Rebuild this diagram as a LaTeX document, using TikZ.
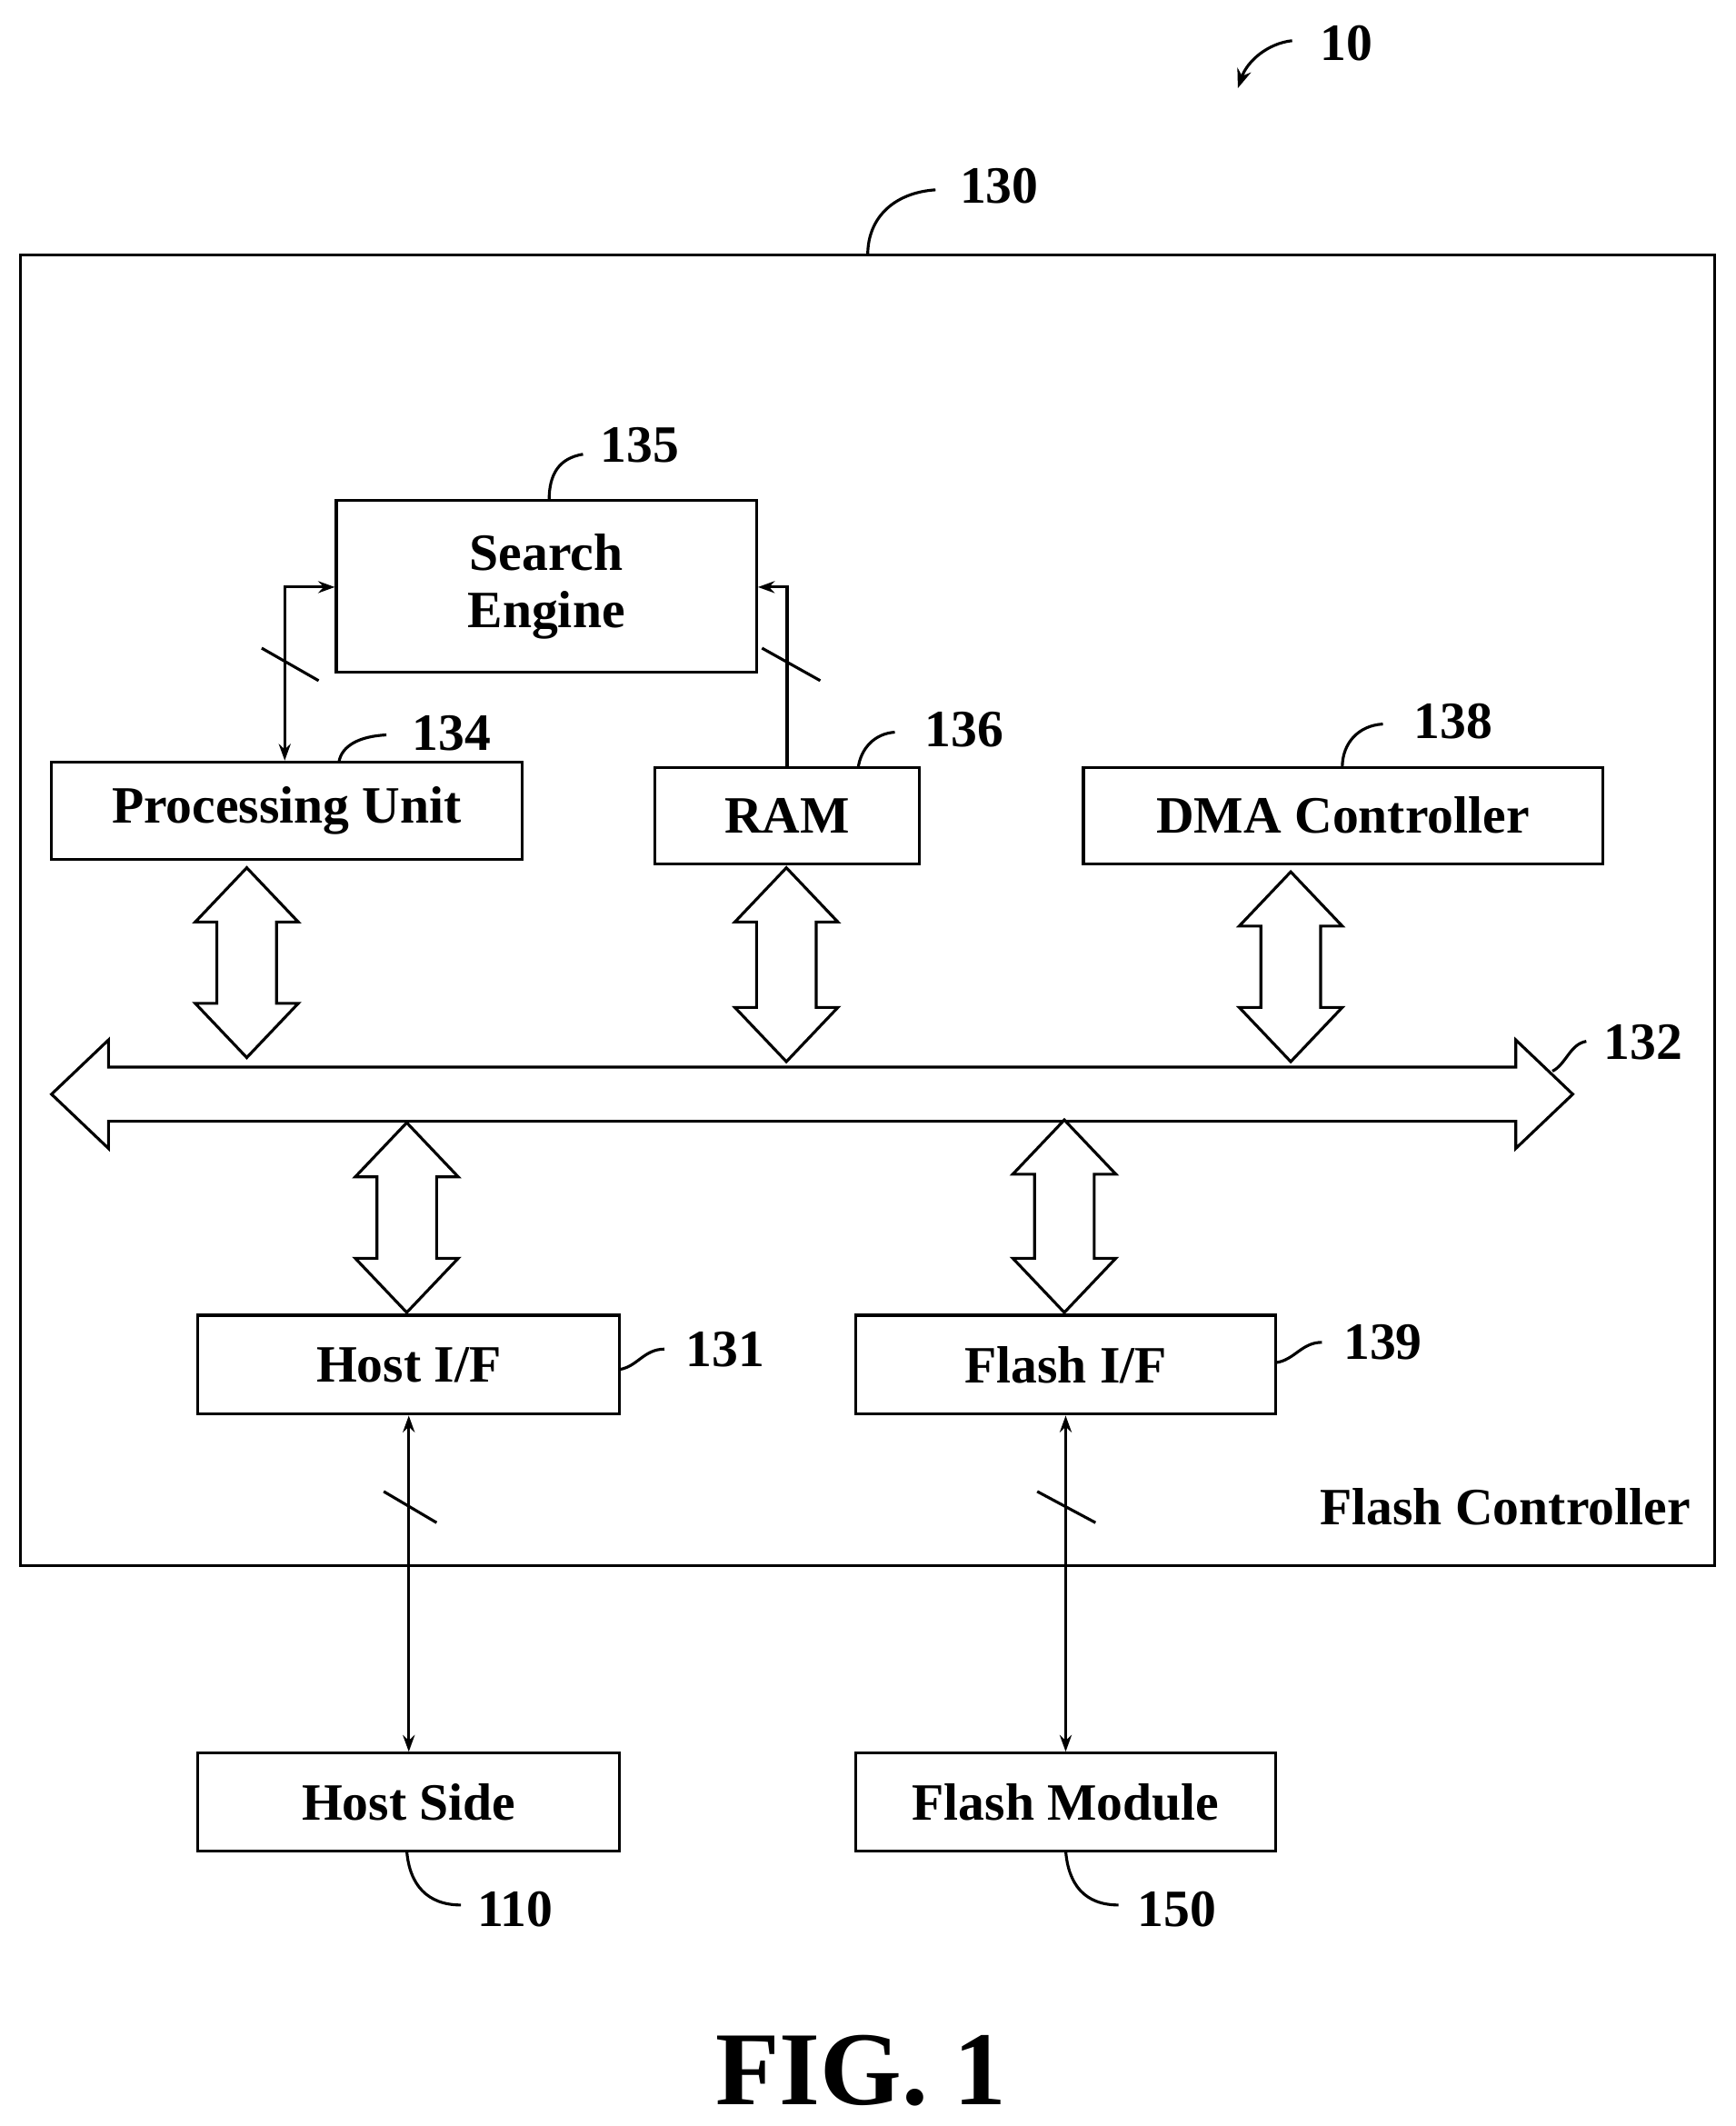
\documentclass[tikz,border=0pt]{standalone}
\usepackage{fontspec}
\setmainfont{Liberation Serif}
\usetikzlibrary{arrows.meta}
\begin{document}
\begin{tikzpicture}[x=0.02cm,y=-0.02cm,
  box/.style={draw,line width=1.2pt,inner sep=0pt,font=\fontsize{22}{24}\selectfont\bfseries,align=center},
  lab/.style={font=\fontsize{22}{24}\selectfont\bfseries,inner sep=0pt},
  lead/.style={line width=1.2pt},
  conn/.style={line width=1.2pt,{Stealth[length=7pt,width=5pt]}-{Stealth[length=7pt,width=5pt]}},
  fat/.style={draw,line width=1.2pt,fill=white}]
\useasboundingbox (0,0) rectangle (1280,1568);
\newcommand\vdarr[3]{\draw[fat] (#1,#2) -- (#1+38,#2+40) -- (#1+22,#2+40) -- (#1+22,#3-40) -- (#1+38,#3-40) -- (#1,#3) -- (#1-38,#3-40) -- (#1-22,#3-40) -- (#1-22,#2+40) -- (#1-38,#2+40) -- cycle;}
% outer
\node[draw,line width=1.2pt,minimum width=25cm,minimum height=19.34cm,inner sep=0pt] (fc) at (640,671.5) {};
\node[lab,anchor=east] (fcl) at (1247,1111) {Flash Controller};
\node[lab] (l130) at (737,137) {130};
\draw[lead] (640,188) .. controls (640,160) and (660,142) .. (690,140);
\node[lab] (l10) at (993,32) {10};
\coordinate (a10s) at (953,30);
\coordinate (a10e) at (913,65);
\draw[lead,-{Stealth[length=8pt,width=6pt]}] (a10s) .. controls (935,32) and (920,45) .. (a10e);
% boxes
\node[box,minimum width=6.2cm,minimum height=2.54cm] (se) at (403,432.5) {Search\\Engine};
\node[box,minimum width=6.94cm,minimum height=1.44cm] (pu) at (211.5,598) {Processing Unit};
\node[box,minimum width=3.9cm,minimum height=1.42cm] (ram) at (580.5,601.5) {RAM};
\node[box,minimum width=7.66cm,minimum height=1.42cm] (dma) at (990.5,601.5) {DMA Controller};
\node[box,minimum width=6.22cm,minimum height=1.46cm] (hif) at (301.5,1006.5) {Host I/F};
\node[box,minimum width=6.2cm,minimum height=1.46cm] (fif) at (786,1006.5) {Flash I/F};
\node[box,minimum width=6.22cm,minimum height=1.44cm] (hs) at (301.5,1329) {Host Side};
\node[box,minimum width=6.2cm,minimum height=1.44cm] (fm) at (786,1329) {Flash Module};
% labels
\node[lab] (l135) at (472,328) {135};
\draw[lead] (405,369) .. controls (405,350) and (412,338) .. (430,335);
\node[lab] (l134) at (333,541) {134};
\draw[lead] (250,562) .. controls (252,550) and (265,543) .. (285,542);
\node[lab] (l136) at (711,538) {136};
\draw[lead] (633,566) .. controls (635,552) and (645,541) .. (660,540);
\node[lab] (l138) at (1072,532) {138};
\draw[lead] (990,566) .. controls (990,548) and (1002,535) .. (1020,534);
\node[lab] (l131) at (535,995) {131};
\draw[lead] (457,1010) .. controls (470,1008) and (475,995) .. (490,995);
\node[lab] (l139) at (1020,990) {139};
\draw[lead] (941,1005) .. controls (955,1003) and (960,990) .. (975,990);
\node[lab] (l132) at (1212,769) {132};
\draw[lead] (1145,790) .. controls (1155,785) and (1158,770) .. (1170,768);
\node[lab] (l110) at (380,1408) {110};
\draw[lead] (300,1365) .. controls (302,1390) and (315,1405) .. (340,1405);
\node[lab] (l150) at (868,1408) {150};
\draw[lead] (786,1365) .. controls (788,1390) and (800,1405) .. (825,1405);
\node[font=\fontsize{44}{48}\selectfont\bfseries] (fig) at (635,1527) {FIG. 1};
% bus
\draw[fat] (38,807) -- (80,767) -- (80,787) -- (1118,787) -- (1118,767) -- (1160,807) -- (1118,847) -- (1118,827) -- (80,827) -- (80,847) -- cycle;
\vdarr{182}{640}{780}
\vdarr{580}{640}{783}
\vdarr{952}{643}{783}
\vdarr{300}{828}{968}
\vdarr{785}{826}{968}
% connectors
\draw[conn] (hif.south) -- (hs.north);
\draw[conn] (fif.south) -- (fm.north);
\draw[lead] (283,1100) -- (322,1123);
\draw[lead] (765,1100) -- (808,1123);
\draw[conn] (se.west |- 0,433) -| (pu.north -| 210,0);
\draw[lead] (193,478) -- (235,502);
\draw[lead,-{Stealth[length=7pt,width=5pt]}] (ram.north) |- (se.east |- 0,433);
\draw[lead] (562,478) -- (605,502);
\end{tikzpicture}
\end{document}
